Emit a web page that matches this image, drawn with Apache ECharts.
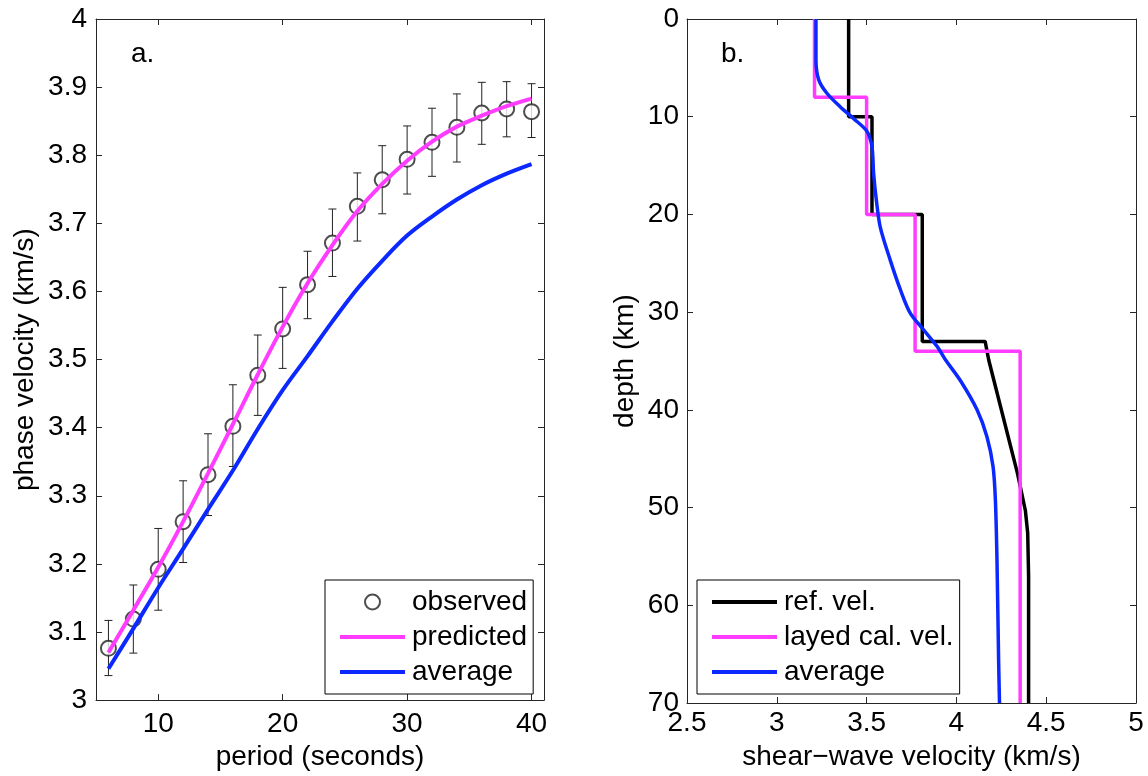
<!DOCTYPE html>
<html>
<head>
<meta charset="utf-8">
<script src="https://cdn.jsdelivr.net/npm/echarts@6/dist/echarts.min.js"></script>
<style>
html,body{margin:0;padding:0;background:#fff;}
#chart{width:1148px;height:776px;}
</style>
</head>
<body>
<div id="chart"></div>
<script>
// ---- Panel a: dispersion curves ----
const periods = [6, 8, 10, 12, 14, 16, 18, 20, 22, 24, 26, 28, 30, 32, 34, 36, 38, 40];
const observed = [3.076, 3.119, 3.192, 3.262, 3.331, 3.402, 3.477, 3.545, 3.610, 3.671, 3.725, 3.764, 3.794, 3.819, 3.841, 3.862, 3.868, 3.864];
const errLow  = [3.036, 3.069, 3.132, 3.202, 3.271, 3.343, 3.418, 3.487, 3.560, 3.622, 3.674, 3.714, 3.743, 3.769, 3.790, 3.816, 3.827, 3.826];
const errHigh = [3.117, 3.169, 3.252, 3.322, 3.391, 3.463, 3.536, 3.606, 3.659, 3.721, 3.774, 3.814, 3.843, 3.869, 3.890, 3.907, 3.908, 3.905];
const predicted = [3.070, 3.132, 3.195, 3.262, 3.333, 3.405, 3.478, 3.548, 3.612, 3.668, 3.718, 3.758, 3.792, 3.820, 3.842, 3.858, 3.872, 3.883];
const averageA  = [3.046, 3.105, 3.165, 3.222, 3.280, 3.337, 3.398, 3.455, 3.505, 3.556, 3.604, 3.645, 3.682, 3.710, 3.735, 3.756, 3.773, 3.787];
const periodTicks = [10, 20, 30, 40];

// ---- Panel b: shear-wave velocity profiles ----
const refVel   = [3.40, 3.40, 3.53, 3.53, 3.81, 3.81, 4.16, 4.18, 4.34, 4.384, 4.397, 4.402, 4.402];
const refDepth = [0,    10,   10,   20,   20,   33,   33,   34.9, 46.5, 50.3,  52.6,  57,    70];
const layVel   = [3.21, 3.21, 3.50, 3.50, 3.77, 3.77, 4.355, 4.355];
const layDepth = [0,    8,    8,    20,   20,   34,   34,    70];
const avgVel   = [3.218, 3.218, 3.233, 3.279, 3.354, 3.428, 3.502, 3.530, 3.539, 3.554, 3.576, 3.632, 3.688, 3.743, 3.817, 3.892, 3.940, 4.022, 4.115, 4.170, 4.204, 4.217, 4.226, 4.235, 4.240];
const avgDepth = [0,     4.2,   6.2,   7.6,   9.0,   10.2,  11.5,  13.1,  15.8,  18.5,  21.3,  24.7,  27.7,  30.1,  31.8,  33.5,  34.9,  37.0,  40.0,  42.75, 45.8,  49.2,  55.4,  65.6,  70];

const FONT = 'Liberation Sans, Arial, Helvetica, sans-serif';
const FS = 28;
const AX = '#262626';
const MAG = '#ff3cff';
const BLUE = '#0a28ff';

const zip = (a, b) => a.map((v, i) => [v, b[i]]);

function axisCommon(extra) {
  return Object.assign({
    type: 'value',
    axisLine: { show: true, onZero: false, lineStyle: { color: AX, width: 1 } },
    axisTick: { show: true, inside: true, length: 6, lineStyle: { color: AX, width: 1 } },
    splitLine: { show: false },
    axisLabel: { show: true, color: '#000', fontSize: FS, fontFamily: FONT },
    nameTextStyle: { color: '#000', fontSize: FS, fontFamily: FONT },
    nameLocation: 'middle'
  }, extra);
}
function mirror(extra) {
  const m = axisCommon(extra);
  m.axisLabel = { show: false };
  m.name = '';
  return m;
}

const fmt1 = v => String(+v.toFixed(1));
const hideSym = { color: 'rgba(0,0,0,0)', borderWidth: 0, borderColor: 'rgba(0,0,0,0)' };
const legendCommon = {
  orient: 'vertical', align: 'left',
  padding: [7, 6, 7, 13], itemGap: 5, itemWidth: 65, itemHeight: 15,
  backgroundColor: '#fff', borderColor: '#000', borderWidth: 1, borderRadius: 0,
  textStyle: { fontSize: FS, fontFamily: FONT, color: '#000', lineHeight: 30, padding: [0, 0, 0, 2] }
};

const option = {
  backgroundColor: '#fff',
  animation: false,
  textStyle: { fontFamily: FONT },
  title: [
    { text: 'a.', left: 131, top: 40, padding: 0, textStyle: { fontSize: FS, fontWeight: 'normal', color: '#000', fontFamily: FONT } },
    { text: 'b.', left: 721, top: 40, padding: 0, textStyle: { fontSize: FS, fontWeight: 'normal', color: '#000', fontFamily: FONT } }
  ],
  grid: [
    { left: 96, top: 19, width: 448, height: 684 },
    { left: 687, top: 19, width: 449, height: 684 }
  ],
  xAxis: [
    axisCommon({ gridIndex: 0, position: 'bottom', min: 5, max: 41, name: 'period (seconds)', nameGap: 40,
      axisLabel: { show: true, color: '#000', fontSize: FS, fontFamily: FONT, margin: 10, customValues: periodTicks },
      axisTick: { show: true, inside: true, length: 6, lineStyle: { color: AX }, customValues: periodTicks } }),
    Object.assign(mirror({ gridIndex: 0, position: 'top', min: 5, max: 41 }),
      { axisTick: { show: true, inside: true, length: 6, lineStyle: { color: AX }, customValues: periodTicks } }),
    axisCommon({ gridIndex: 1, position: 'bottom', min: 2.5, max: 5, interval: 0.5, name: 'shear\u2212wave velocity (km/s)', nameGap: 40,
      axisLabel: { show: true, color: '#000', fontSize: FS, fontFamily: FONT, margin: 6, formatter: v => String(v) } }),
    mirror({ gridIndex: 1, position: 'top', min: 2.5, max: 5, interval: 0.5 })
  ],
  yAxis: [
    axisCommon({ gridIndex: 0, position: 'left', min: 3, max: 4, interval: 0.1, name: 'phase velocity (km/s)', nameGap: 57,
      axisLabel: { show: true, color: '#000', fontSize: FS, fontFamily: FONT, margin: 9, formatter: fmt1 } }),
    mirror({ gridIndex: 0, position: 'right', min: 3, max: 4, interval: 0.1 }),
    axisCommon({ gridIndex: 1, position: 'left', min: 0, max: 70, interval: 10, inverse: true, name: 'depth (km)', nameGap: 48,
      axisLabel: { show: true, color: '#000', fontSize: FS, fontFamily: FONT, margin: 8 } }),
    mirror({ gridIndex: 1, position: 'right', min: 0, max: 70, interval: 10, inverse: true })
  ],
  legend: [
    Object.assign({}, legendCommon, {
      left: 325, top: 580,
      data: [
        { name: 'observed', icon: 'emptyCircle', itemStyle: { color: '#222', borderColor: '#222', borderWidth: 1 } },
        { name: 'predicted', itemStyle: hideSym, lineStyle: { width: 4, color: MAG } },
        { name: 'average', itemStyle: hideSym, lineStyle: { width: 4, color: BLUE } }
      ]
    }),
    Object.assign({}, legendCommon, {
      left: 697, top: 580,
      data: [
        { name: 'ref. vel.', itemStyle: hideSym, lineStyle: { width: 4, color: '#000' } },
        { name: 'layed cal. vel.', itemStyle: hideSym, lineStyle: { width: 4, color: MAG } },
        { name: 'average ', itemStyle: hideSym, lineStyle: { width: 4, color: BLUE } }
      ]
    })
  ],
  series: [
    {
      name: 'error', type: 'custom', xAxisIndex: 0, yAxisIndex: 0,
      data: periods.map((p, i) => [p, errLow[i], errHigh[i]]),
      renderItem: function (params, api) {
        const lo = api.coord([api.value(0), api.value(1)]);
        const hi = api.coord([api.value(0), api.value(2)]);
        const w = 4;
        const st = { stroke: '#222', lineWidth: 1 };
        return { type: 'group', children: [
          { type: 'line', shape: { x1: hi[0], y1: hi[1], x2: lo[0], y2: lo[1] }, style: st },
          { type: 'line', shape: { x1: hi[0] - w, y1: hi[1], x2: hi[0] + w, y2: hi[1] }, style: st },
          { type: 'line', shape: { x1: lo[0] - w, y1: lo[1], x2: lo[0] + w, y2: lo[1] }, style: st }
        ]};
      },
      z: 2
    },
    {
      name: 'observed', type: 'scatter', xAxisIndex: 0, yAxisIndex: 0,
      symbol: 'emptyCircle', symbolSize: 15,
      itemStyle: { color: '#222', borderColor: '#222', borderWidth: 1 },
      data: zip(periods, observed), z: 3
    },
    {
      name: 'predicted', type: 'line', xAxisIndex: 0, yAxisIndex: 0,
      symbol: 'none', smooth: 0.35, lineStyle: { color: MAG, width: 4 }, itemStyle: { color: MAG },
      data: zip(periods, predicted), z: 4
    },
    {
      name: 'average', type: 'line', xAxisIndex: 0, yAxisIndex: 0,
      symbol: 'none', smooth: 0.35, lineStyle: { color: BLUE, width: 4 }, itemStyle: { color: BLUE },
      data: zip(periods, averageA), z: 4
    },
    {
      name: 'ref. vel.', type: 'line', xAxisIndex: 2, yAxisIndex: 2,
      symbol: 'none', lineStyle: { color: '#000', width: 3.5 }, itemStyle: { color: '#000' },
      data: zip(refVel, refDepth), z: 3
    },
    {
      name: 'layed cal. vel.', type: 'line', xAxisIndex: 2, yAxisIndex: 2,
      symbol: 'none', lineStyle: { color: MAG, width: 3.5 }, itemStyle: { color: MAG },
      data: zip(layVel, layDepth), z: 4
    },
    {
      name: 'average ', type: 'line', xAxisIndex: 2, yAxisIndex: 2,
      symbol: 'none', smooth: 0.3, lineStyle: { color: BLUE, width: 3.5 }, itemStyle: { color: BLUE },
      data: zip(avgVel, avgDepth), z: 5
    }
  ]
};

const chart = echarts.init(document.getElementById('chart'), null, { renderer: 'canvas' });
chart.setOption(option);
</script>
</body>
</html>
